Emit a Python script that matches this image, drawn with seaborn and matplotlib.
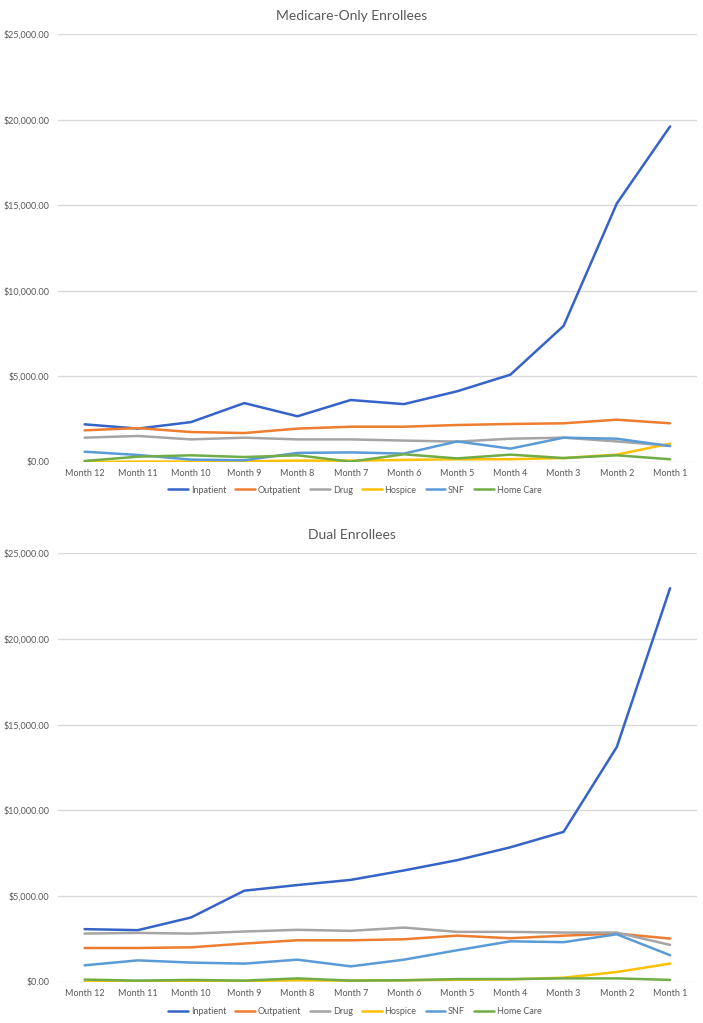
import numpy as np
import pandas as pd
import matplotlib
matplotlib.use("Agg")
import matplotlib.pyplot as plt
import seaborn as sns
from matplotlib.ticker import FuncFormatter

# --- Data ---
months = ["Month 12", "Month 11", "Month 10", "Month 9", "Month 8", "Month 7",
          "Month 6", "Month 5", "Month 4", "Month 3", "Month 2", "Month 1"]
categories = ["Inpatient", "Outpatient", "Drug", "Hospice", "SNF", "Home Care"]

medicare_inpatient = [2200, 1950, 2330, 3440, 2670, 3620, 3380, 4130, 5100, 7950, 15100, 19600]
medicare_outpatient = [1850, 1980, 1750, 1690, 1950, 2060, 2060, 2160, 2220, 2260, 2470, 2260]
medicare_drug = [1420, 1520, 1320, 1420, 1320, 1320, 1250, 1190, 1360, 1420, 1200, 950]
medicare_hospice = [0, 20, 20, 40, 80, 80, 120, 160, 160, 230, 430, 1070]
medicare_snf = [600, 410, 140, 100, 530, 560, 490, 1200, 780, 1420, 1360, 930]
medicare_homecare = [60, 310, 390, 290, 390, 20, 450, 210, 430, 230, 390, 160]

dual_inpatient = [3080, 3020, 3760, 5320, 5650, 5950, 6500, 7100, 7850, 8750, 13700, 22950]
dual_outpatient = [1980, 1980, 2020, 2240, 2430, 2430, 2490, 2700, 2550, 2700, 2820, 2530]
dual_drug = [2820, 2860, 2820, 2940, 3040, 2980, 3170, 2920, 2920, 2880, 2880, 2160]
dual_hospice = [0, 0, 20, 60, 100, 80, 100, 130, 150, 250, 580, 1070]
dual_snf = [970, 1260, 1130, 1070, 1300, 910, 1300, 1850, 2370, 2320, 2780, 1560]
dual_homecare = [140, 80, 120, 80, 210, 80, 100, 170, 170, 210, 210, 120]

palette = {"Inpatient": "#3563C8", "Outpatient": "#ED7D31", "Drug": "#A5A5A5",
           "Hospice": "#FFC000", "SNF": "#5B9BD5", "Home Care": "#70AD47"}


def to_long(series):
    rows = []
    for cat, vals in zip(categories, series):
        for m, v in zip(months, vals):
            rows.append({"Month": m, "Category": cat, "Cost": v})
    return pd.DataFrame(rows)


medicare_df = to_long([medicare_inpatient, medicare_outpatient, medicare_drug,
                       medicare_hospice, medicare_snf, medicare_homecare])
dual_df = to_long([dual_inpatient, dual_outpatient, dual_drug,
                   dual_hospice, dual_snf, dual_homecare])

sns.set_style("white")
plt.rcParams["font.family"] = ["Lato", "DejaVu Sans"]

fig = plt.figure(figsize=(7.03, 10.23), dpi=100)
ax_top = fig.add_axes([0.0825, 0.5484, 0.9085, 0.4184])
ax_bot = fig.add_axes([0.0825, 0.0401, 0.9085, 0.4193])

money = FuncFormatter(lambda v, p: f"${v:,.2f}")

for ax, df, title, leg_y in [(ax_top, medicare_df, "Medicare-Only Enrollees", 0.521),
                             (ax_bot, dual_df, "Dual Enrollees", 0.011)]:
    sns.lineplot(data=df, x="Month", y="Cost", hue="Category", palette=palette,
                 hue_order=categories, linewidth=1.8, sort=False, ax=ax, legend=True)
    ax.set_ylim(0, 25000)
    ax.set_xlim(-0.5, len(months) - 0.5)
    ax.set_yticks(np.arange(0, 25001, 5000))
    ax.yaxis.set_major_formatter(money)
    ax.grid(axis="y", color="#D9D9D9", linewidth=1)
    ax.set_axisbelow(True)
    for s in ax.spines.values():
        s.set_visible(False)
    ax.tick_params(axis="both", length=0, labelsize=6.5, colors="#595959")
    ax.tick_params(axis="y", pad=6)
    ax.tick_params(axis="x", pad=5)
    ax.set_xlabel("")
    ax.set_ylabel("")
    ax.set_title(title, fontsize=10, color="#595959", x=0.46, pad=10)

    handles, labels = ax.get_legend_handles_labels()
    ax.get_legend().remove()
    fig.legend(handles, labels, loc="center", bbox_to_anchor=(0.505, leg_y), ncol=6,
               frameon=False, fontsize=6.5, handlelength=2.2, columnspacing=1.0,
               handletextpad=0.3, labelcolor="#595959")

fig.savefig("out.png", dpi=100)
plt.close(fig)
